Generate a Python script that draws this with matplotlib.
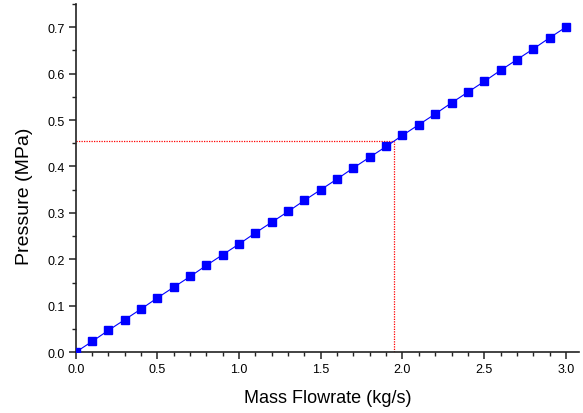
import numpy as np
import matplotlib.pyplot as plt
from matplotlib.ticker import MultipleLocator

plt.rcParams['font.family'] = ['Liberation Sans', 'DejaVu Sans']

# mass flowrate (kg/s) and measured pressure (MPa)
flow = [0.0, 0.1, 0.2, 0.3, 0.4, 0.5, 0.6, 0.7, 0.8, 0.9, 1.0,
        1.1, 1.2, 1.3, 1.4, 1.5, 1.6, 1.7, 1.8, 1.9, 2.0,
        2.1, 2.2, 2.3, 2.4, 2.5, 2.6, 2.7, 2.8, 2.9, 3.0]
pressure = [0.000, 0.023, 0.047, 0.070, 0.093, 0.117, 0.140, 0.163,
            0.187, 0.210, 0.233, 0.257, 0.280, 0.303, 0.327, 0.350,
            0.373, 0.397, 0.420, 0.443, 0.467, 0.490, 0.513, 0.537,
            0.560, 0.583, 0.607, 0.630, 0.653, 0.677, 0.700]

# operating point
op_flow = 1.95
op_pressure = 0.455

fig = plt.figure(figsize=(5.83, 4.14), dpi=100)
ax = fig.add_axes([0.130, 0.147, 0.863, 0.841])

ax.plot(flow, pressure, color='blue', lw=0.8, marker='s', ms=6,
        markerfacecolor='blue', markeredgecolor='blue', zorder=3)
ax.plot([0, op_flow], [op_pressure, op_pressure], color='red', lw=0.9,
        ls=(0, (1, 1)), zorder=2)
ax.plot([op_flow, op_flow], [0, op_pressure], color='red', lw=0.9,
        ls=(0, (1, 1)), zorder=2)

ax.set_xlim(0, 3.08)
ax.set_ylim(0, 0.75)
ax.xaxis.set_major_locator(MultipleLocator(0.5))
ax.xaxis.set_minor_locator(MultipleLocator(0.1))
ax.yaxis.set_major_locator(MultipleLocator(0.1))
ax.yaxis.set_minor_locator(MultipleLocator(0.05))
ax.xaxis.set_major_formatter(plt.FormatStrFormatter('%.1f'))
ax.yaxis.set_major_formatter(plt.FormatStrFormatter('%.1f'))

for s in ['top', 'right']:
    ax.spines[s].set_visible(False)
for s in ['left', 'bottom']:
    ax.spines[s].set_linewidth(1.2)
    ax.spines[s].set_color('#222222')

ax.tick_params(which='major', length=5, width=1.1, labelsize=9, pad=3,
               color='#222222')
ax.tick_params(which='minor', length=3, width=1.0, color='#222222')

ax.set_xlabel('Mass Flowrate (kg/s)', fontsize=13, labelpad=10)
ax.set_ylabel('Pressure (MPa)', fontsize=14, labelpad=10)
ax.yaxis.set_label_coords(-0.086, 0.451)

fig.savefig('out.png', dpi=100)
